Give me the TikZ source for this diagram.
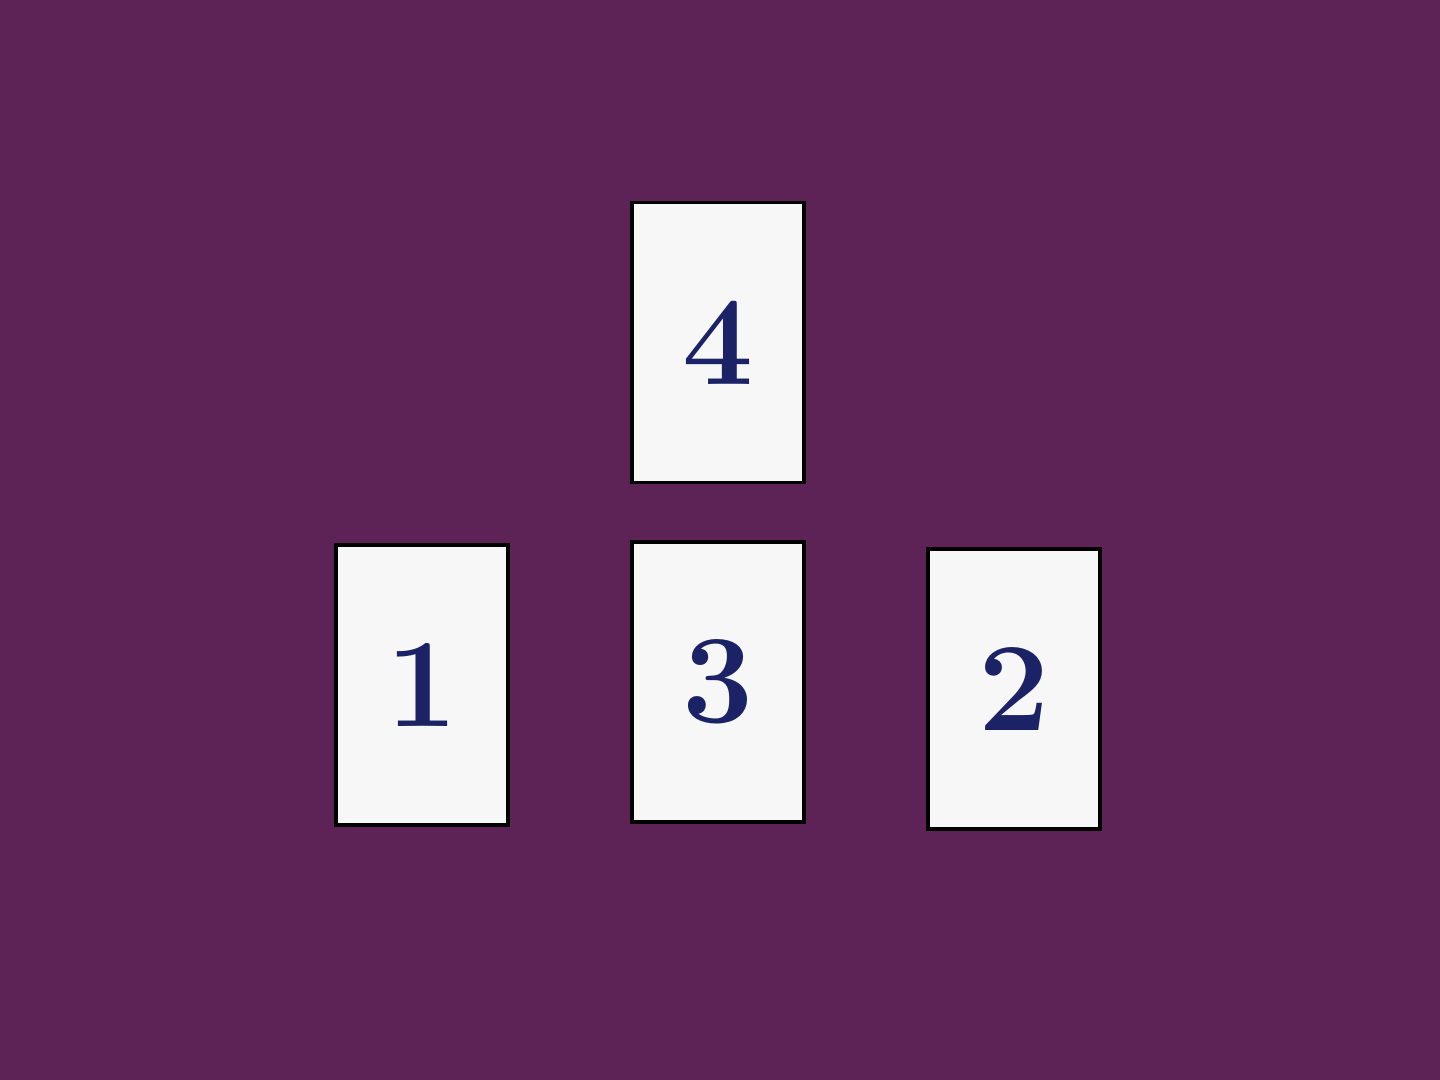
\documentclass[tikz,border=0pt]{standalone}
\usepackage{tikz}
\usetikzlibrary{positioning}
\definecolor{cloth}{RGB}{94,35,86}
\definecolor{cardwhite}{RGB}{247,247,247}
\definecolor{inkblue}{RGB}{28,34,102}

\begin{document}
\begin{tikzpicture}[auto,node distance=2.96cm,semithick]
	\tikzset{card/.style={draw=black,fill=cardwhite,line width=0.9pt,minimum width=1.72cm,minimum height=2.8cm,inner sep=0pt,text=inkblue,font=\fontsize{36}{36}\selectfont\bfseries}}
	\fill[cloth] (0,0) rectangle (14.4,10.8);
	\useasboundingbox (0,0) rectangle (14.4,10.8);
	\node[card] (3) at (7.18,3.98) {3};
	\node[card] (4) [above of=3,node distance=3.395cm] {4};
	\node[card] (1) [left of=3,yshift=-0.03cm] {1};
	\node[card] (2) [right of=3,yshift=-0.07cm] {2};
\end{tikzpicture}
\end{document}
